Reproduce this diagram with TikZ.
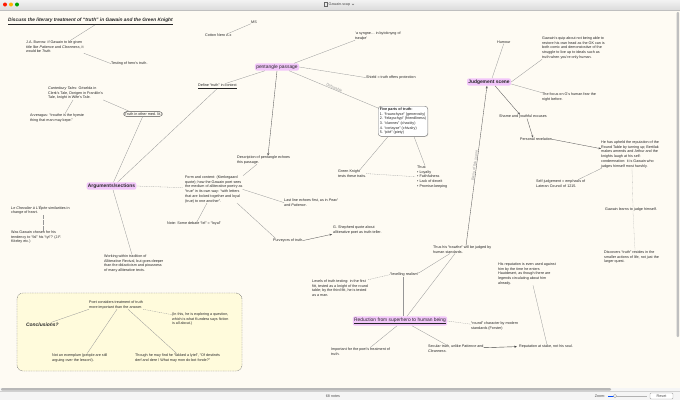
\documentclass[tikz,border=0pt]{standalone}
\usepackage{fontspec}
\setmainfont{Liberation Sans}
\usetikzlibrary{arrows.meta,shadows}
\definecolor{bg}{RGB}{254,251,243}
\definecolor{hubpink}{RGB}{242,198,250}
\definecolor{lnc}{RGB}{150,150,150}
\definecolor{concl}{RGB}{255,251,220}
\newcommand\smallfs{\fontsize{3.7}{4.7}\selectfont}
\newcommand\hubfs{\fontsize{4.9}{6}\selectfont}
\begin{document}
\begin{tikzpicture}[x=1pt,y=-1pt,
 txt/.style={anchor=north west,inner sep=0pt,align=left,font=\smallfs,text=black!85},
 hub/.style={fill=hubpink,rounded corners=2pt,inner sep=1.3pt,font=\hubfs,text=black!85},
 ln/.style={draw=lnc,line width=0.3pt},
 dln/.style={ln,dash pattern=on 1pt off 0.8pt},
 dotln/.style={ln,dash pattern=on 0.4pt off 0.8pt},
 arr/.style={draw=black!65,line width=0.35pt,-{Stealth[length=2.6pt,width=2pt]}},
 lbl/.style={midway,sloped,font=\smallfs,text=black!40,inner sep=0pt},
]
\useasboundingbox (0,0) rectangle (680,400);
% canvas and window chrome
\fill[bg] (0,0) rectangle (680,400);
\fill[top color=black!5,bottom color=black!14] (0,0) rectangle (680,10);
\draw[black!25,line width=0.3pt] (0,10) -- (680,10);
\fill[red!80!orange] (5,4.5) circle (2pt);
\fill[orange!60!yellow] (11,4.5) circle (2pt);
\fill[green!65!black] (17,4.5) circle (2pt);
\draw[black!60,line width=0.3pt] (324.5,2.5) rectangle (327,6.5);
\node[font=\smallfs,text=black!70,inner sep=0pt,anchor=west] (wtitle) at (328.5,4.6) {Gawain.scap};
\draw[black!60,line width=0.3pt] (352,3.8) -- (353,4.9) -- (354,3.8);
\fill[black!4] (0,388) rectangle (680,400);
\fill[black!28,rounded corners=1pt] (1,388) rectangle (611,390.6);
\draw[black!18,line width=0.3pt] (0,391.5) -- (680,391.5);
\fill[black!25,rounded corners=1pt] (676.5,12) rectangle (679,337);
\node[font=\smallfs,text=black!70,inner sep=0pt] (notes) at (333,396) {68 notes};
\node[font=\smallfs,text=black!70,inner sep=0pt] (zoomlbl) at (600,396) {Zoom:};
\draw[black!30,line width=0.6pt] (608,396) -- (647,396);
\draw[blue!70!cyan,line width=0.6pt] (608,396) -- (614,396);
\filldraw[fill=white,draw=black!40,line width=0.3pt] (615,396) circle (1.6pt);
\node[draw=black!35,fill=white,rounded corners=1pt,minimum width=23pt,minimum height=6pt,inner sep=0pt,font=\smallfs,text=black!70] (reset) at (661.5,396) {Reset};
% conclusions group box
\draw[fill=concl,draw=black!55,line width=0.4pt,dash pattern=on 1pt off 0.7pt,rounded corners=6pt] (17,293) rectangle (242,371);
% nodes
\node[txt,font=\fontsize{4.8}{6}\selectfont\bfseries\itshape] (title) at (8,18) {\underline{Discuss the literary treatment of “truth” in Gawain and the Green Knight}};
\node[txt] (ms) at (251,20.7) {MS};
\node[txt] (cotton) at (205,33.7) {Cotton Nero A.x};
\node[txt] (burrow) at (26,40.7) {J.A. Burrow: if Gawain to be given\\title like \textit{Patience} and \textit{Cleanness}, it\\would be \textit{Truth}.};
\node[txt] (testing) at (111,61.7) {Testing of hero’s truth.};
\node[txt] (canter) at (48,86.7) {\textit{Canterbury Tales}: Griselda in\\Clerk’s Tale, Dorigen in Franklin’s\\Tale, knight in Wife’s Tale.};
\node[txt,draw=black!70,rounded corners=2.5pt,inner sep=1pt,anchor=center] (truthmed) at (143,114) {Truth in other med. lit.};
\node[txt] (arver) at (30,113.7) {Arveragus: “trouthe is the hyeste\\thing that man may kepe.”};
\node[hub,font=\hubfs\bfseries] (arg) at (111.5,186) {Arguments/sections};
\node[txt] (define) at (198,83.7) {\underline{Define “truth” in context}};
\node[hub] (pent) at (277,67) {pentangle passage};
\node[txt] (syngne) at (355,31.7) {‘a syngne… in bytoknyng of\\trawþe’};
\node[txt] (shield) at (366,75.7) {Shield = truth offers protection};
\node[txt,draw=black!55,fill=white,rounded corners=3pt,inner sep=1.6pt,drop shadow={opacity=0.25,shadow xshift=0.6pt,shadow yshift=-0.6pt}] (five) at (378,106) {\textbf{Five parts of truth:}\\1. “fraunchyse” (generosity)\\2. “felaȝschyp” (friendliness)\\3. “clannes” (chastity)\\4. “cortayse” (chivalry)\\5. “pité” (piety)};
\node[txt] (desc) at (237,155.7) {Description of pentangle echoes\\this passage.};
\node[txt] (form) at (185,175.7) {Form and content: (Kierkegaard\\quote); how the Gawain poet sees\\the medium of alliterative poetry as\\“true” in its own way: “with letters\\that are locked together and loyal\\(true) to one another”.};
\node[txt] (note) at (167,221.7) {Note: Some debate “lel” = “loyal”};
\node[txt] (last) at (284,198.7) {Last line echoes first, as in \textit{Pearl}\\and \textit{Patience}.};
\node[txt] (purv) at (273,238.7) {Purveyors of truth};
\node[txt] (shep) at (333,225.7) {G. Shepherd quote about\\alliterative poet as truth-teller.};
\node[txt] (green) at (338,169.7) {Green Knight\\tests these traits.};
\node[txt] (thus5) at (417,165.7) {Thus:\\• Loyalty\\• Faithfulness\\• Lack of deceit\\• Promise-keeping};
\node[txt] (humour) at (497,40.7) {Humour};
\node[hub,font=\hubfs\bfseries] (judge) at (489,82) {Judgement scene};
\node[txt] (quip) at (542,36.7) {Gawain’s quip about not being able to\\restore his own head as the GK can is\\both comic and demonstrative of the\\struggle to live up to ideals such as\\truth when you’re only human.};
\node[txt] (focus) at (542,92.7) {The focus on G’s human fear the\\night before.};
\node[txt] (shame) at (499,114.7) {Shame and youthful excuses};
\node[txt] (personal) at (520,137.7) {Personal revelation};
\node[txt] (upheld) at (601,140.7) {He has upheld the reputation of the\\Round Table by turning up; Bertilak\\makes amends and Arthur and the\\knights laugh at his self-\\condemnation: it is Gawain who\\judges himself most harshly.};
\node[txt] (selfj) at (536,179.7) {Self-judgement = emphasis of\\Lateran Council of 1215.};
\node[txt] (learns) at (605,207.7) {Gawain learns to judge himself.};
\node[txt] (disc) at (604,250.7) {Discovers “truth” resides in the\\smaller actions of life, not just the\\larger quest.};
\node[txt] (thustraw) at (433,245.7) {Thus his “trawthe” will be judged by\\human standards.};
\node[txt] (level) at (312,279.7) {Levels of truth testing: in the first\\fitt, tested as a knight of the round\\table; by the third fitt, he is tested\\as a man.};
\node[txt] (levreal) at (390,272.7) {“levelling realism”};
\node[hub] (red) at (400,321) {\underline{Reduction from superhero to human being}};
\node[txt] (round) at (471,321.7) {“round” character by modern\\standards (Forster)};
\node[txt] (secular) at (428,344.7) {Secular truth, unlike \textit{Patience} and\\\textit{Cleanness}.};
\node[txt] (reput) at (519,344.7) {Reputation at stake, not his soul.};
\node[txt] (hisrep) at (498,262.7) {His reputation is even used against\\him by the time he enters\\Hautdesert, as though there are\\legends circulating about him\\already.};
\node[txt] (import) at (331,347.7) {Important for the poet’s treatment of\\truth.};
\node[txt] (working) at (104,254.7) {Working within tradition of\\Alliterative Revival, but goes deeper\\than the didacticism and piousness\\of many alliterative texts.};
\node[txt] (chev) at (11,205.7) {\textit{Le Chevalier à L’Épée} similarities in\\change of heart.};
\node[txt] (wasg) at (11,230.7) {Was Gawain chosen for his\\tendency to “fal” his “tyt”? (J.F.\\Kiteley etc.)};
\node[txt,font=\hubfs\bfseries\itshape] (conclq) at (26,322.5) {Conclusions?};
\node[txt] (poet) at (89,300.7) {Poet considers treatment of truth\\more important than the answer.};
\node[txt] (inthis) at (172,312.7) {(In this, he is exploring a question,\\which is what Kundera says fiction\\is all about.)};
\node[txt] (exemp) at (52,353.7) {Not an exemplum (people are still\\arguing over the lesson!).};
\node[txt] (though) at (135,353.7) {Though he may find he “lakked a lytel”, “Of destinés\\derf and dere / What may mon do bot fonde?”};
% connectors
\draw[ln] ([xshift=87pt]title.south west) -- ([xshift=44pt]burrow.north west);
\draw[ln] ([xshift=-4pt]cotton.north east) -- (ms.south west);
\draw[ln] (burrow.south east) -- (testing.west);
\draw[ln] (canter.south east) -- ([xshift=6pt]truthmed.north west);
\draw[ln] ([xshift=25pt]canter.south west) -- ([xshift=35pt]arver.north west);
\draw[ln] ([xshift=19pt]truthmed.south west) -- ([xshift=2pt]arg.north);
\draw[ln] ([xshift=19pt]define.south west) -- ([xshift=6pt]arg.north);
\draw[ln] ([xshift=-12pt]define.north east) -- ([xshift=10pt]pent.south west);
\draw[ln] ([xshift=-5pt]pent.north east) -- (syngne.south west);
\draw[ln] (pent.east) -- (shield.west);
\draw[ln] ([xshift=-10pt]pent.south east) -- node[lbl,above=0.3pt]{Debatable} ([yshift=-2pt]five.north west);
\draw[arr] (pent.south) -- ([xshift=31pt]desc.north west);
\draw[ln] ([xshift=20pt]desc.south west) -- ([xshift=58pt]form.north west);
\draw[dln] (arg.east) -- ([xshift=-2pt,yshift=-12pt]form.north west);
\draw[ln] ([xshift=22pt]form.south west) -- ([xshift=30pt]note.north west);
\draw[ln] (form.east) -- (last.west);
\draw[ln] ([xshift=52pt]form.south west) -- ([xshift=3pt]purv.north west);
\draw[arr] (purv.east) -- ([xshift=-1pt]shep.south west);
\draw[ln] ([xshift=22pt]green.north west) -- ([xshift=10pt]five.south west);
\draw[ln] ([xshift=36pt]five.south west) -- ([xshift=8pt]thus5.north west);
\draw[dln] (green.east) -- ([xshift=-2pt,yshift=-11pt]thus5.north west);
\draw[ln] (humour.south) -- ([xshift=3pt]judge.north);
\draw[ln] (judge.east) -- (quip.south west);
\draw[ln] ([yshift=-2pt]judge.east) -- (focus.north west);
\draw[arr] ([xshift=6pt]judge.south) -- ([xshift=21pt]shame.north west);
\draw[arr] ([xshift=28pt]shame.south west) -- ([xshift=13pt]personal.north west);
\draw[arr] (personal.east) -- ([yshift=-8pt]upheld.north west);
\draw[ln] ([xshift=42pt]selfj.north west) -- ([xshift=1pt]upheld.south west);
\draw[dotln] ([xshift=31pt]upheld.south west) -- ([xshift=28pt]learns.north west);
\draw[dotln] ([xshift=28pt]learns.south west) -- ([xshift=31pt]disc.north west);
\draw[arr] ([xshift=33pt]thustraw.north west) -- node[lbl,above=0.4pt]{Basis of this scene} ([xshift=-2pt]judge.south);
\draw[ln] ([xshift=17pt]thustraw.south west) -- (levreal.north east);
\draw[ln] ([xshift=22pt]thustraw.south west) -- ([xshift=7pt]red.north);
\draw[dln] (level.north east) -- (levreal.west);
\draw[ln] ([xshift=13pt]levreal.south west) -- ([xshift=3pt]red.north);
\draw[dln] (red.east) -- ([yshift=-2.5pt]round.north west);
\draw[ln] ([xshift=12pt]red.south) -- ([xshift=18pt]secular.north west);
\draw[ln] ([xshift=-3pt]red.south) -- ([xshift=39pt]import.north west);
\draw[draw=black!75,line width=0.4pt,-{Latex[length=2.5pt,width=2.2pt]}] ([yshift=-3pt]secular.north east) -- ([xshift=-2pt]reput.west);
\draw[ln] ([xshift=35pt]hisrep.south west) -- ([xshift=28pt]reput.north west);
\draw[ln] ([xshift=1.5pt]arg.south) -- ([xshift=28pt]working.north west);
\draw[dotln] ([xshift=32pt]chev.south west) -- ([xshift=32pt]wasg.north west);
\draw[ln] ([xshift=-8pt]conclq.north east) -- (poet.south west);
\draw[ln] ([xshift=28pt]poet.south west) -- ([xshift=35pt]exemp.north west);
\draw[ln] ([xshift=39pt]poet.south west) -- ([xshift=42pt]though.north west);
\draw[dln] (poet.south east) -- ([yshift=-2pt]inthis.north west);
\end{tikzpicture}
\end{document}
